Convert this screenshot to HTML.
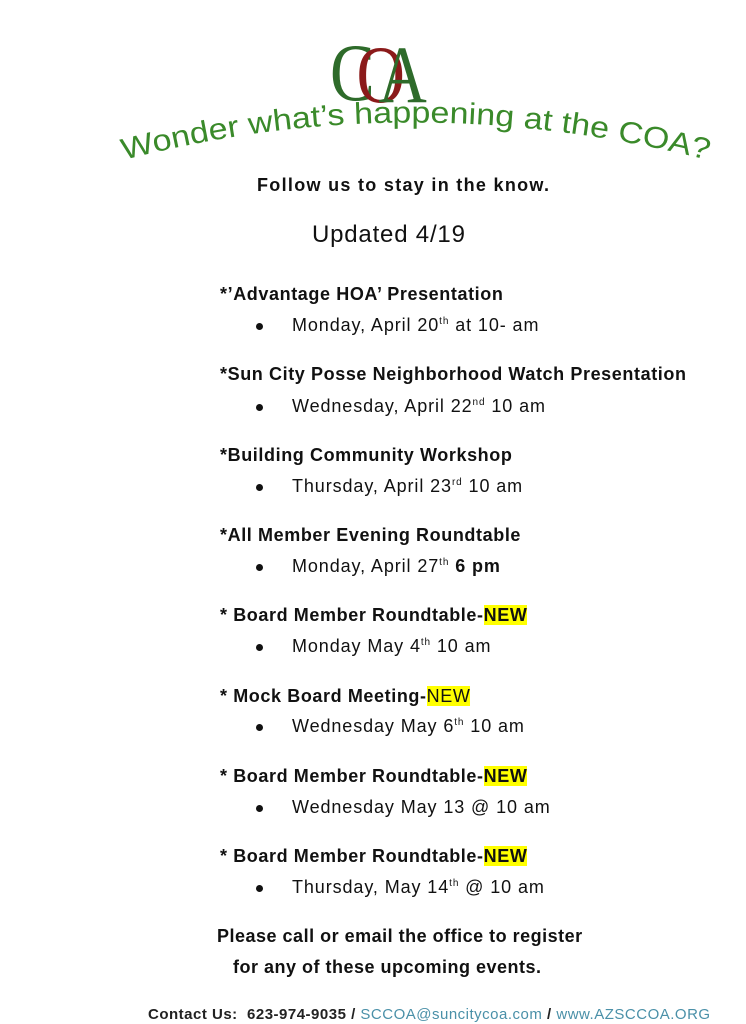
<!DOCTYPE html>
<html><head><meta charset="utf-8"><style>
body{margin:0;width:746px;height:1024px;background:#fff;position:relative;font-family:"Liberation Sans",sans-serif;color:#111;overflow:hidden}
.t{position:absolute;white-space:nowrap}
.h{font-weight:bold;font-size:18px;left:220px;letter-spacing:0.6px}
.s{font-size:18px;left:292px;letter-spacing:0.9px}
.b{position:absolute;left:256px;width:7px;height:7px;border-radius:50%;background:#111}
.n{background:#ffff00}
sup{font-size:10px}
</style></head><body>
<svg width="746" height="200" style="position:absolute;left:0;top:0">
<g transform="translate(330,100) scale(0.78,0.95)">
<text x="0" y="0" font-family="Liberation Serif" font-size="86" fill="#2e6b2a">C</text>
<text x="34" y="2" font-family="Liberation Serif" font-size="86" fill="#8b1a1a">O</text>
<text x="62" y="2" font-family="Liberation Serif" font-size="86" fill="#2e6b2a">A</text>
</g>
<path id="arc" d="M124,160 Q410,85 708,160" fill="none"/>
<text font-family="Liberation Sans" font-size="30" fill="#3a8a2a"><textPath href="#arc" textLength="590" lengthAdjust="spacingAndGlyphs">Wonder what’s happening at the COA?</textPath></text>
</svg>
<div class="t" style="left:257px;top:175px;font-weight:bold;font-size:18px;letter-spacing:1.3px">Follow us to stay in the know.</div>
<div class="t" style="left:312px;top:221px;font-size:24px;letter-spacing:0.8px">Updated 4/19</div>

<div class="t h" style="top:284px">*’Advantage HOA’ Presentation</div>
<div class="b" style="top:323px"></div><div class="t s" style="top:315px">Monday, April 20<sup>th</sup> at 10- am</div>

<div class="t h" style="top:364px">*Sun City Posse Neighborhood Watch Presentation</div>
<div class="b" style="top:404px"></div><div class="t s" style="top:396px">Wednesday, April 22<sup>nd</sup> 10 am</div>

<div class="t h" style="top:445px">*Building Community Workshop</div>
<div class="b" style="top:484px"></div><div class="t s" style="top:476px">Thursday, April 23<sup>rd</sup> 10 am</div>

<div class="t h" style="top:525px">*All Member Evening Roundtable</div>
<div class="b" style="top:564px"></div><div class="t s" style="top:556px">Monday, April 27<sup>th</sup> <b>6 pm</b></div>

<div class="t h" style="top:605px">* Board Member Roundtable-<span class="n">NEW</span></div>
<div class="b" style="top:644px"></div><div class="t s" style="top:636px">Monday May 4<sup>th</sup> 10 am</div>

<div class="t h" style="top:686px">* Mock Board Meeting-<span class="n" style="font-weight:normal">NEW</span></div>
<div class="b" style="top:724px"></div><div class="t s" style="top:716px">Wednesday May 6<sup>th</sup> 10 am</div>

<div class="t h" style="top:766px">* Board Member Roundtable-<span class="n">NEW</span></div>
<div class="b" style="top:805px"></div><div class="t s" style="top:797px">Wednesday May 13 @ 10 am</div>

<div class="t h" style="top:846px">* Board Member Roundtable-<span class="n">NEW</span></div>
<div class="b" style="top:885px"></div><div class="t s" style="top:877px">Thursday, May 14<sup>th</sup> @ 10 am</div>

<div class="t" style="left:217px;top:926px;font-weight:bold;font-size:18px;letter-spacing:0.5px">Please call or email the office to register</div>
<div class="t" style="left:233px;top:957px;font-weight:bold;font-size:18px;letter-spacing:0.5px">for any of these upcoming events.</div>

<div class="t" style="left:148px;top:1006px;font-size:15px;font-weight:bold;color:#222;letter-spacing:0.5px">Contact Us:&nbsp; 623-974-9035 / <span style="color:#4a90a8;font-weight:normal">SCCOA@suncitycoa.com</span> / <span style="color:#4a90a8;font-weight:normal">www.AZSCCOA.ORG</span></div>
</body></html>
